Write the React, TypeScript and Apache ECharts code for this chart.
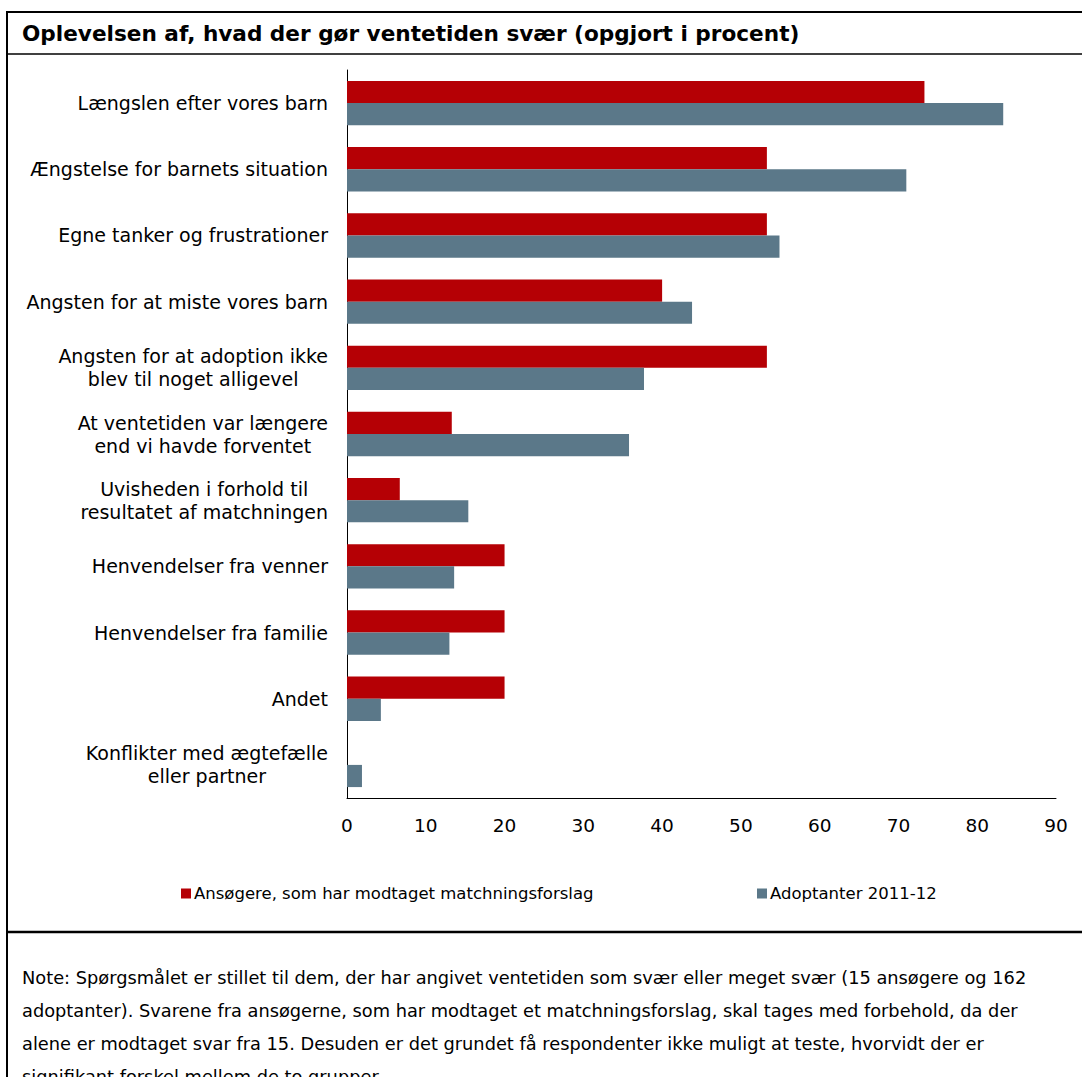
import React, { useEffect, useRef } from 'react';
import * as echarts from 'echarts';

const titleText = 'Oplevelsen af, hvad der gør ventetiden svær (opgjort i procent)';

const categories = [
  'Længslen efter vores barn',
  'Ængstelse for barnets situation',
  'Egne tanker og frustrationer',
  'Angsten for at miste vores barn',
  'Angsten for at adoption ikke\nblev til noget alligevel',
  'At ventetiden var længere\nend vi havde forventet',
  'Uvisheden i forhold til\nresultatet af matchningen',
  'Henvendelser fra venner',
  'Henvendelser fra familie',
  'Andet',
  'Konflikter med ægtefælle\neller partner',
];

const seriesNames = ['Ansøgere, som har modtaget matchningsforslag', 'Adoptanter 2011-12'];

const applicants = [73.3, 53.3, 53.3, 40.0, 53.3, 13.3, 6.7, 20.0, 20.0, 20.0, 0];
const adopters = [83.3, 71.0, 54.9, 43.8, 37.7, 35.8, 15.4, 13.6, 13.0, 4.3, 1.9];

const xMin = 0;
const xMax = 90;
const xStep = 10;

const noteLines = [
  'Note: Spørgsmålet er stillet til dem, der har angivet ventetiden som svær eller meget svær (15 ansøgere og 162',
  'adoptanter). Svarene fra ansøgerne, som har modtaget et matchningsforslag, skal tages med forbehold, da der',
  'alene er modtaget svar fra 15. Desuden er det grundet få respondenter ikke muligt at teste, hvorvidt der er',
  'signifikant forskel mellem de to grupper.',
];

const colors = ['#B50005', '#5B7889'];
const FONT = 'DejaVu Sans';

export default function App() {
  const ref = useRef<HTMLDivElement>(null);
  useEffect(() => {
    if (!ref.current) return;
    const chart = echarts.init(ref.current, undefined, { renderer: 'svg' });
    const legendBase = {
      orient: 'horizontal',
      itemWidth: 10,
      itemHeight: 10,
      icon: 'rect',
      padding: 0,
      textStyle: { fontFamily: FONT, fontSize: 16.5, color: '#000', padding: [0, 0, 0, -2] },
    };
    chart.setOption({
      animation: false,
      backgroundColor: '#fff',
      color: colors,
      grid: { left: 347, right: 26, top: 70, bottom: 279, containLabel: false },
      xAxis: {
        type: 'value',
        min: xMin,
        max: xMax,
        interval: xStep,
        splitLine: { show: false },
        axisLine: { show: true, lineStyle: { color: '#000', width: 1 } },
        axisTick: { show: false },
        axisLabel: { fontFamily: FONT, fontSize: 18.5, color: '#000', margin: 18 },
      },
      yAxis: {
        type: 'category',
        data: categories,
        inverse: true,
        axisLine: { show: true, lineStyle: { color: '#000', width: 1 } },
        axisTick: { show: false },
        axisLabel: {
          margin: 19,
          fontFamily: FONT,
          fontSize: 19,
          color: '#000',
          lineHeight: 23,
          formatter: (v: string) => v.split('\n').map((l) => `{c|${l}}`).join('\n'),
          rich: {
            c: { align: 'center', fontFamily: FONT, fontSize: 19, color: '#000', lineHeight: 23 },
          },
        },
      },
      legend: [
        { ...legendBase, data: [seriesNames[0]], left: 181, top: 885 },
        { ...legendBase, data: [seriesNames[1]], left: 757, top: 885 },
      ],
      series: [
        {
          name: seriesNames[0],
          type: 'bar',
          data: applicants,
          barGap: '0%',
          barCategoryGap: '33%',
          itemStyle: { color: colors[0] },
        },
        {
          name: seriesNames[1],
          type: 'bar',
          data: adopters,
          barGap: '0%',
          barCategoryGap: '33%',
          itemStyle: { color: colors[1] },
        },
      ],
      graphic: [
        { type: 'line', shape: { x1: 7, y1: 12, x2: 1082, y2: 12 }, style: { stroke: '#000', lineWidth: 2 } },
        { type: 'line', shape: { x1: 7, y1: 11, x2: 7, y2: 1077 }, style: { stroke: '#000', lineWidth: 2 } },
        { type: 'line', shape: { x1: 7, y1: 54, x2: 1082, y2: 54 }, style: { stroke: '#000', lineWidth: 1.5 } },
        { type: 'line', shape: { x1: 7, y1: 932, x2: 1082, y2: 932 }, style: { stroke: '#000', lineWidth: 2.5 } },
        {
          type: 'text',
          x: 22,
          y: 33,
          style: {
            text: titleText,
            fontFamily: FONT,
            fontWeight: 'bold',
            fontSize: 21.6,
            fill: '#000',
            textAlign: 'left',
            textVerticalAlign: 'middle',
          },
        },
        ...noteLines.map((t, i) => ({
          type: 'text',
          x: 22,
          y: 977 + i * 33,
          style: {
            text: t,
            fontFamily: FONT,
            fontSize: 17.8,
            fill: '#000',
            textAlign: 'left',
            textVerticalAlign: 'middle',
          },
        })),
      ],
    });
    return () => chart.dispose();
  }, []);
  return (
    <div
      style={{ position: 'absolute', left: 0, top: 0, width: 1082, height: 1077, overflow: 'hidden', background: '#fff' }}
    >
      <div ref={ref} style={{ width: 1082, height: 1077 }} />
    </div>
  );
}
